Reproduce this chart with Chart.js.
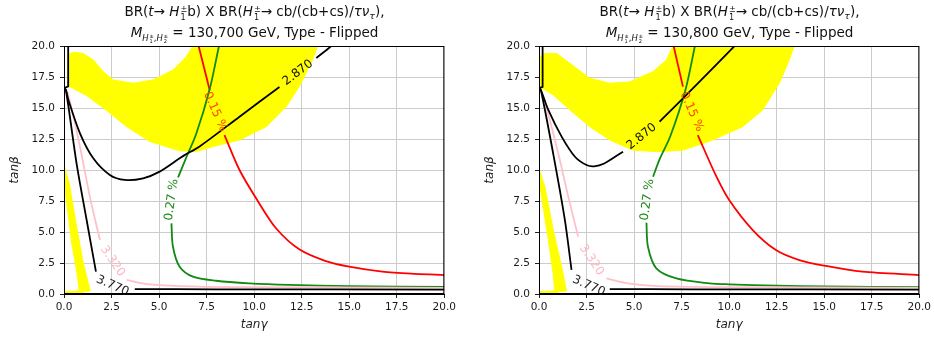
<!DOCTYPE html>
<html>
<head>
<meta charset="utf-8">
<script src="https://cdn.jsdelivr.net/npm/chart.js@4.4.1/dist/chart.umd.min.js"></script>
<style>
  body { margin: 0; background: #fff; width: 934px; height: 340px; overflow: hidden; position: relative; font-family: "DejaVu Sans", sans-serif; }
  canvas { position: absolute; top: 0; }
  .title { position: absolute; transform: translateX(-50%); white-space: nowrap; font-size: 13.5px; line-height: 1; color: #111; }
  .ss { display: inline-block; vertical-align: -0.45em; font-size: 0.6em; line-height: 1; text-align: left; margin-left: 1px; }
  .ss span { display: block; }
  .sub { font-size: 0.7em; vertical-align: -0.3em; }
  .msub { font-size: 0.62em; vertical-align: -0.45em; }
</style>
</head>
<body>
<canvas id="leftChart" width="459" height="340" style="left:0"></canvas>
<canvas id="rightChart" width="459" height="340" style="left:475px"></canvas>

<script>
// ── DATA (tanγ, tanβ) ─────────────────────────────────────────────────────────

const panelMasses = ["130,700", "130,800"];
const tickValues = [0, 2.5, 5, 7.5, 10, 12.5, 15, 17.5, 20];

// left panel, M = 130,700 GeV
const leftBand = [[0.22,16.7],[0.22,19.3],[0.5,19.5],[1.01,19.4],[1.54,18.87],[2.06,17.93],[2.59,17.26],[3.64,17.0],[4.68,17.26],[5.73,18.06],[6.43,19.14],[6.78,20],[6.78,20.6],[13.4,20.6],[13.34,20],[13.07,18.87],[12.37,16.72],[11.68,15.1],[10.63,13.49],[9.23,12.42],[7.81,11.88],[7.0,11.5],[6.08,11.55],[4.51,12.3],[3.29,13.5],[2.24,14.8],[1.19,16.0],[0.5,16.55]];
const leftWedge = [[0,10.4],[0.28,8.9],[0.62,5.8],[1.0,2.6],[1.38,0.25],[1.0,0.2],[1.0,0],[0,0],[0,0.2],[0.8,0.25],[0.7,1.5],[0.4,4.2],[0.1,7.8],[0,8.6]];
const leftBox = [[0.22,20.5],[0.22,16.75],[0,16.6]];
const left2870a = [[0,16.6],[0.1,16.45],[0.23,15.65],[0.84,12.96],[1.54,10.94],[2.41,9.6],[3.2,9.2],[4.16,9.33],[5.03,9.87],[6.08,10.94],[6.34,11.2],[7.13,11.9],[9.23,14.3],[11.33,16.7]];
const left2870b = [[13.27,19.03],[14.05,20],[14.2,20.3]];
const left3770a = [[0,16.6],[0.1,16.45],[0.66,10.54],[1.19,5.97],[1.68,1.8]];
const left3770b = [[3.72,0.4],[8,0.38],[20,0.36]];
const left3320a = [[0,16.6],[0.2,16.2],[0.84,11.88],[1.36,7.85],[1.89,4.35]];
const left3320b = [[3.29,1.13],[4.34,0.8],[6.08,0.64],[9,0.56],[20,0.5]];
const left027a = [[8.15,20],[7.65,16.45],[6.95,12.9],[6.4,10.9],[6.0,9.4]];
const left027b = [[5.65,5.7],[5.73,3.81],[6.08,2.2],[6.78,1.4],[8.0,1.07],[9.75,0.86],[11.85,0.73],[15,0.63],[20,0.57]];
const left015a = [[7.08,20],[7.66,16.45]];
const left015b = [[8.44,12.82],[9.23,10.0],[10.15,7.6],[11.15,5.3],[12.37,3.6],[13.77,2.65],[15,2.2],[16.74,1.8],[18.5,1.62],[20,1.53]];

// right panel, M = 130,800 GeV
const rightBand = [[0,16.6],[0,19.0],[0.23,19.4],[0.93,19.4],[1.63,18.6],[2.67,17.4],[3.72,17.0],[4.77,17.1],[5.99,17.93],[6.7,18.87],[7.04,20],[7.04,20.6],[13.5,20.6],[13.42,20],[13.16,18.87],[12.64,17.0],[11.76,14.84],[10.71,13.49],[9.14,12.42],[7.57,11.6],[6.17,11.48],[4.95,11.6],[3.72,12.42],[2.67,13.49],[1.63,14.84],[0.75,16.05],[0.31,16.45]];
const rightWedge = [[0,10.1],[0.31,8.65],[0.75,5.16],[1.19,2.2],[1.45,0.25],[1.0,0.2],[1.0,0],[0,0],[0,0.2],[0.82,0.25],[0.75,1.6],[0.49,4.35],[0.1,8.2],[0,8.8]];
const rightBox = [[0.19,20.5],[0.19,16.7],[0,16.6]];
const right2870a = [[0,16.6],[0.1,16.45],[0.49,14.84],[1.19,12.69],[1.89,11.07],[2.5,10.4],[2.9,10.3],[3.4,10.5],[4.42,11.48]];
const right2870b = [[6.34,13.9],[8.3,16.9],[10.35,20.1]];
const right3770a = [[0,16.6],[0.1,16.45],[0.84,10.54],[1.36,5.97],[1.71,1.94]];
const right3770b = [[3.72,0.4],[8,0.38],[20,0.36]];
const right3320a = [[0,16.6],[0.25,15.8],[1.01,11.35],[1.54,7.85],[2.06,4.62]];
const right3320b = [[3.55,1.26],[4.68,0.86],[6,0.66],[9,0.56],[20,0.5]];
const right027a = [[8.2,20],[7.7,16.45],[6.9,12.7],[6.35,10.9],[6.0,9.46]];
const right027b = [[5.65,5.75],[5.73,3.81],[6.17,2.07],[7.22,1.26],[8.97,0.86],[10,0.78],[12.5,0.67],[15,0.61],[20,0.56]];
const right015a = [[7.08,20],[7.57,16.72]];
const right015b = [[8.35,12.82],[9.32,9.5],[10.0,7.58],[11.24,5.16],[12.46,3.55],[13.69,2.74],[15.09,2.26],[17.0,1.8],[20,1.53]];

// inline contour labels: text and anchor (tanγ, tanβ)
const labelTexts = ["2.870", "0.15 %", "0.27 %", "3.320", "3.770"];
const leftLabelAt = [[12.3,17.85],[7.95,14.7],[5.66,7.6],[2.55,2.65],[2.55,0.66]];
const rightLabelAt = [[5.4,12.7],[8.03,14.7],[5.7,7.6],[2.76,2.74],[2.62,0.65]];

// ── STYLE ─────────────────────────────────────────────────────────────────────

const YELLOW = "#ffff00";
const BLACK = "#000000";
const PINK = "#ffc0cb";
const GREEN = "#108a10";
const RED = "#ff0000";
const labelColors = ["#111", "#ff4500", "#1a8a1a", "#ffb6c1", "#222"];
const labelAngles = { left: [-37, 66, -82, 56, 24], right: [-39, 66, -82, 56, 24] };

Chart.defaults.font.family = '"DejaVu Sans", sans-serif';

function toXY(pts) {
  return pts.map(p => ({ x: p[0], y: p[1] }));
}

function area(pts) {
  return {
    data: toXY(pts), showLine: true, fill: "shape", tension: 0,
    backgroundColor: YELLOW, borderColor: YELLOW, borderWidth: 1,
    pointRadius: 0, order: 10
  };
}

function line(pts, color, tension = 0.3) {
  return {
    data: toXY(pts), showLine: true, fill: false, tension,
    borderColor: color, borderWidth: 1.8, pointRadius: 0, order: 1
  };
}

const contourLabels = {
  id: "contourLabels",
  afterDatasetsDraw(chart, args, opts) {
    const { ctx, chartArea: a, scales: { x, y } } = chart;
    ctx.save();
    ctx.font = '12px "DejaVu Sans"';
    ctx.textAlign = "center";
    ctx.textBaseline = "middle";
    opts.at.forEach((p, i) => {
      ctx.save();
      ctx.translate(x.getPixelForValue(p[0]), y.getPixelForValue(p[1]));
      ctx.rotate(opts.angles[i] * Math.PI / 180);
      ctx.fillStyle = labelColors[i];
      ctx.fillText(labelTexts[i], 0, 0);
      ctx.restore();
    });
    // spines
    ctx.strokeStyle = "#000";
    ctx.lineWidth = 1;
    ctx.strokeRect(a.left + 0.5, a.top + 0.5, a.width - 1, a.height - 1);
    ctx.restore();
  }
};

function axis(titleText, isX) {
  return {
    type: "linear", min: 0, max: 20,
    afterBuildTicks: s => { s.ticks = tickValues.map(v => ({ value: v })); },
    ticks: {
      callback: v => v.toFixed(1), color: "#1a1a1a", padding: isX ? 3 : 5,
      font: { size: 10.5 }, maxRotation: 0, autoSkip: false
    },
    grid: { color: "#cccccc", lineWidth: 1, tickColor: "#222", tickLength: 4 },
    border: { color: "#000" },
    title: {
      display: true, text: titleText, color: "#222",
      font: { size: 12, style: "italic" },
      padding: isX ? { top: 0, bottom: 8 } : { top: 8, bottom: 0 }
    },
    afterFit: s => { if (isX) s.height = 46; else s.width = 64; }
  };
}

function makePanel(id, sets, labelAt, angles) {
  new Chart(document.getElementById(id), {
    type: "scatter",
    data: { datasets: sets },
    options: {
      responsive: false, animation: false, events: [],
      layout: { padding: { top: 46, right: 14, bottom: 0, left: 0 } },
      plugins: {
        legend: { display: false }, tooltip: { enabled: false },
        contourLabels: { at: labelAt, angles }
      },
      scales: { x: axis("tanγ", true), y: axis("tanβ", false) }
    },
    plugins: [contourLabels]
  });
}

makePanel("leftChart", [
  area(leftBand), area(leftWedge),
  line(leftBox, BLACK, 0),
  line(left2870a, BLACK), line(left2870b, BLACK),
  line(left3770a, BLACK), line(left3770b, BLACK),
  line(left3320a, PINK), line(left3320b, PINK),
  line(left027a, GREEN), line(left027b, GREEN),
  line(left015a, RED), line(left015b, RED)
], leftLabelAt, labelAngles.left);

makePanel("rightChart", [
  area(rightBand), area(rightWedge),
  line(rightBox, BLACK, 0),
  line(right2870a, BLACK), line(right2870b, BLACK),
  line(right3770a, BLACK), line(right3770b, BLACK),
  line(right3320a, PINK), line(right3320b, PINK),
  line(right027a, GREEN), line(right027b, GREEN),
  line(right015a, RED), line(right015b, RED)
], rightLabelAt, labelAngles.right);

// ── TITLES ────────────────────────────────────────────────────────────────────

const h1 = '<i>H</i><span class="ss"><span>±</span><span>1</span></span>';
const hsub = n => '<i>H</i><span class="ss"><span>±</span><span>' + n + '</span></span>';
[254.5, 729.5].forEach((cx, i) => {
  const t1 = document.createElement("div");
  t1.className = "title";
  t1.style.left = cx + "px";
  t1.style.top = "5px";
  t1.innerHTML = 'BR(<i>t</i>→ ' + h1 + 'b) X BR(' + h1 + '→ cb/(cb+cs)/<i>τν</i><span class="sub"><i>τ</i></span>),';
  document.body.appendChild(t1);

  const t2 = document.createElement("div");
  t2.className = "title";
  t2.style.left = cx + "px";
  t2.style.top = "26px";
  t2.innerHTML = '<i>M</i><span class="msub">' + hsub(1) + ',' + hsub(2) + '</span> = ' +
    panelMasses[i] + ' GeV, Type - Flipped';
  document.body.appendChild(t2);
});
</script>
</body>
</html>
